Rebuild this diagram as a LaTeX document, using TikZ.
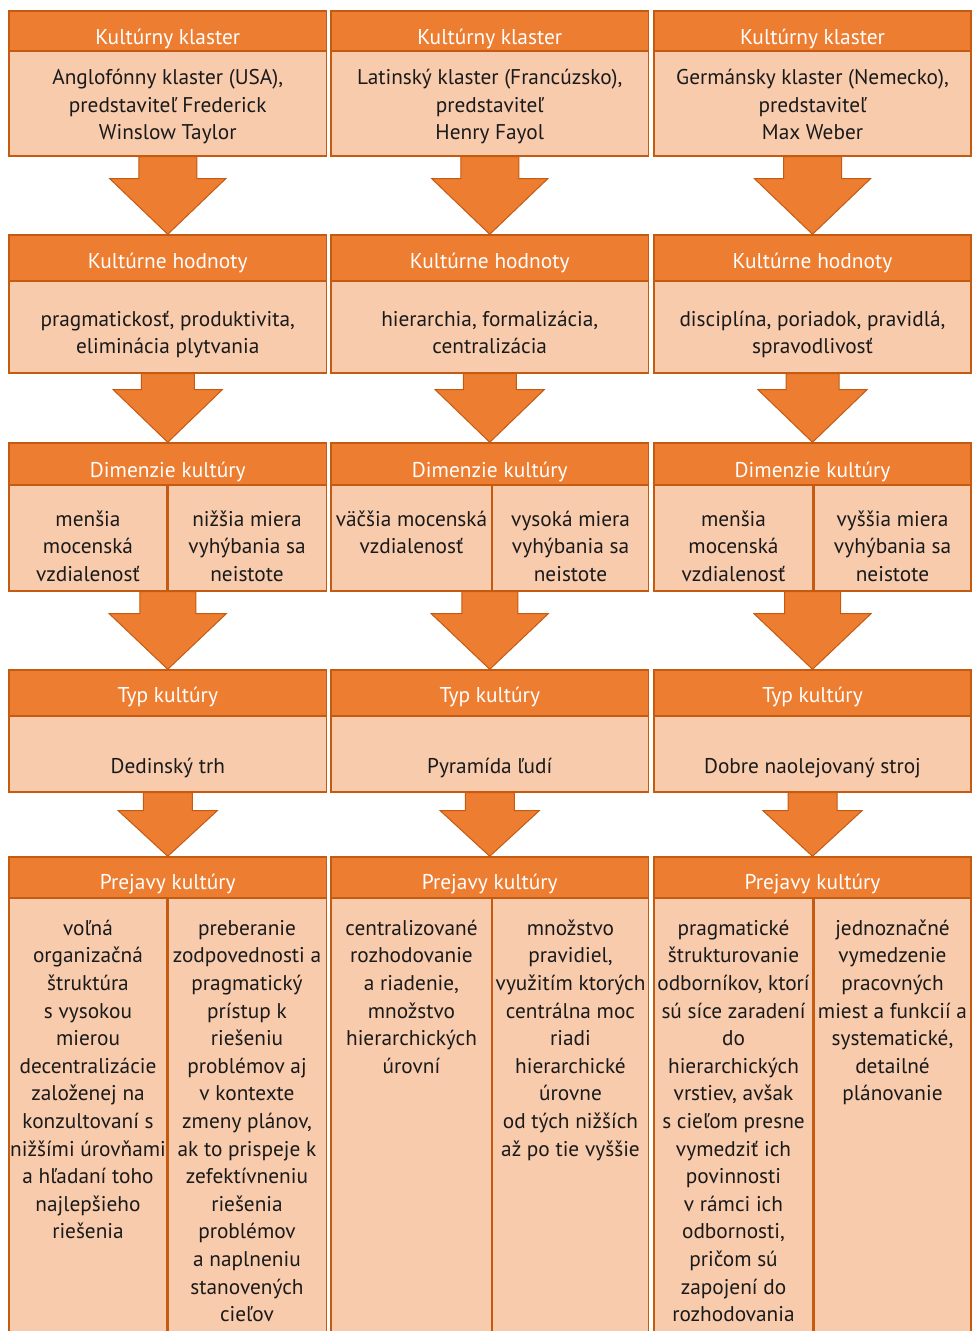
\documentclass[tikz,border=0pt]{standalone}
\usepackage{fontspec}
\setmainfont{PT Sans}
\usetikzlibrary{fit,calc}
\definecolor{hdrfill}{HTML}{ED7D31}
\definecolor{bodyfill}{HTML}{F8CBAD}
\definecolor{bord}{HTML}{C55A11}
\definecolor{ink}{HTML}{1A1A1A}
\newcommand\tstrut{\rule{0pt}{24pt}}
\newcommand\blkarrow[5]{%
  \filldraw[blockarrow] let \p1=(#1.south), \p2=(#2.north) in
    (\x1-#3pt,\y1) -- (\x1-#3pt,\y1-#5pt) -- (\x1-#4pt,\y1-#5pt) -- (\x1,\y2)
    -- (\x1+#4pt,\y1-#5pt) -- (\x1+#3pt,\y1-#5pt) -- (\x1+#3pt,\y1) -- cycle;}
\begin{document}
\begin{tikzpicture}[x=1pt,y=-1pt,
  hdrbox/.style={draw=bord, fill=hdrfill, line width=1.4pt, inner sep=0pt},
  bodybox/.style={draw=bord, fill=bodyfill, line width=1.4pt, inner sep=0pt},
  blockarrow/.style={fill=hdrfill, draw=bord, line width=1pt, line join=miter},
  hdrtxt/.style={text=white, font=\fontsize{21.4}{27.6}\selectfont, anchor=base, inner sep=0pt},
  bodytxt/.style={text=ink, font=\fontsize{21.3}{27.6}\selectfont, align=center, anchor=north, inner sep=0pt}]
\useasboundingbox (0,0) rectangle (972,1331);
\clip (0,0) rectangle (972,1331);

\foreach \c/\l/\r/\d in {1/9/326.5/167.75, 2/331/648.5/492, 3/654/971/813.75}{
  \node[hdrbox, fit={(\l,11)(\r,51)}] (h1c\c) {};
  \node[bodybox, fit={(\l,51)(\r,156)}] (b1c\c) {};
  \node[hdrbox, fit={(\l,235)(\r,281)}] (h2c\c) {};
  \node[bodybox, fit={(\l,281)(\r,373)}] (b2c\c) {};
  \node[hdrbox, fit={(\l,443)(\r,485)}] (h3c\c) {};
  \node[bodybox, fit={(\l,485)(\r,591)}] (b3c\c) {};
  \node[bodybox, fit={(\l,485)(\d-0.75,591)}] (b3L\c) {};
  \node[bodybox, fit={(\d+0.75,485)(\r,591)}] (b3R\c) {};
  \node[hdrbox, fit={(\l,670)(\r,716)}] (h4c\c) {};
  \node[bodybox, fit={(\l,716)(\r,792)}] (b4c\c) {};
  \node[hdrbox, fit={(\l,857)(\r,898)}] (h5c\c) {};
  \node[bodybox, fit={(\l,898)(\r,1345)}] (b5c\c) {};
  \node[bodybox, fit={(\l,898)(\d-0.75,1345)}] (b5L\c) {};
  \node[bodybox, fit={(\d+0.75,898)(\r,1345)}] (b5R\c) {};
}
\foreach \c in {1,2,3}{
  \blkarrow{b1c\c}{h2c\c}{29}{58}{22}
  \blkarrow{b2c\c}{h3c\c}{26.5}{54.5}{16}
  \blkarrow{b3c\c}{h4c\c}{28}{58.5}{22}
  \blkarrow{b4c\c}{h5c\c}{24.5}{49.5}{18}
}

% headers
\foreach \c/\x in {1/167.75, 2/489.75, 3/812.5}{
  \node[hdrtxt] (th1c\c) at (\x,44.5) {Kultúrny klaster};
  \node[hdrtxt] (th2c\c) at (\x,268) {Kultúrne hodnoty};
  \node[hdrtxt] (th3c\c) at (\x,477) {Dimenzie kultúry};
  \node[hdrtxt] (th4c\c) at (\x,702) {Typ kultúry};
  \node[hdrtxt] (th5c\c) at (\x,889) {Prejavy kultúry};
}

% row 1
\node[bodytxt] (t1c1) at (167.75,60.5) {\tstrut Anglofónny klaster (USA),\\ predstaviteľ Frederick\\ Winslow Taylor};
\node[bodytxt] (t1c2) at (489.75,60.5) {\tstrut Latinský klaster (Francúzsko),\\ predstaviteľ\\ Henry Fayol};
\node[bodytxt] (t1c3) at (812.5,60.5) {\tstrut Germánsky klaster (Nemecko),\\ predstaviteľ\\ Max Weber};
% row 2
\node[bodytxt] (t2c1) at (167.75,302) {\tstrut pragmatickosť, produktivita,\\ eliminácia plytvania};
\node[bodytxt] (t2c2) at (489.75,302) {\tstrut hierarchia, formalizácia,\\ centralizácia};
\node[bodytxt] (t2c3) at (812.5,302) {\tstrut disciplína, poriadok, pravidlá,\\ spravodlivosť};
% row 3
\node[bodytxt] (t3L1) at (88,502) {\tstrut menšia\\ mocenská\\ vzdialenosť};
\node[bodytxt] (t3R1) at (247,502) {\tstrut nižšia miera\\ vyhýbania sa\\ neistote};
\node[bodytxt] (t3L2) at (411.5,502) {\tstrut väčšia mocenská\\ vzdialenosť};
\node[bodytxt] (t3R2) at (570.5,502) {\tstrut vysoká miera\\ vyhýbania sa\\ neistote};
\node[bodytxt] (t3L3) at (733.5,502) {\tstrut menšia\\ mocenská\\ vzdialenosť};
\node[bodytxt] (t3R3) at (892.5,502) {\tstrut vyššia miera\\ vyhýbania sa\\ neistote};
% row 4
\node[bodytxt] (t4c1) at (167.75,749) {\tstrut Dedinský trh};
\node[bodytxt] (t4c2) at (489.75,749) {\tstrut Pyramída ľudí};
\node[bodytxt] (t4c3) at (812.5,749) {\tstrut Dobre naolejovaný stroj};
% row 5
\node[bodytxt] (t5L1) at (88,911) {\tstrut voľná\\ organizačná\\ štruktúra\\ s vysokou\\ mierou\\ decentralizácie\\ založenej na\\ konzultovaní s\\ nižšími úrovňami\\ a hľadaní toho\\ najlepšieho\\ riešenia};
\node[bodytxt] (t5R1) at (247,911) {\tstrut preberanie\\ zodpovednosti a\\ pragmatický\\ prístup k\\ riešeniu\\ problémov aj\\ v kontexte\\ zmeny plánov,\\ ak to prispeje k\\ zefektívneniu\\ riešenia\\ problémov\\ a naplneniu\\ stanovených\\ cieľov};
\node[bodytxt] (t5L2) at (411.5,911) {\tstrut centralizované\\ rozhodovanie\\ a riadenie,\\ množstvo\\ hierarchických\\ úrovní};
\node[bodytxt] (t5R2) at (570.5,911) {\tstrut množstvo\\ pravidiel,\\ využitím ktorých\\ centrálna moc\\ riadi\\ hierarchické\\ úrovne\\ od tých nižších\\ až po tie vyššie};
\node[bodytxt] (t5L3) at (733.5,911) {\tstrut pragmatické\\ štrukturovanie\\ odborníkov, ktorí\\ sú síce zaradení\\ do\\ hierarchických\\ vrstiev, avšak\\ s cieľom presne\\ vymedziť ich\\ povinnosti\\ v rámci ich\\ odbornosti,\\ pričom sú\\ zapojení do\\ rozhodovania};
\node[bodytxt] (t5R3) at (892.5,911) {\tstrut jednoznačné\\ vymedzenie\\ pracovných\\ miest a funkcií a\\ systematické,\\ detailné\\ plánovanie};
\end{tikzpicture}
\end{document}
